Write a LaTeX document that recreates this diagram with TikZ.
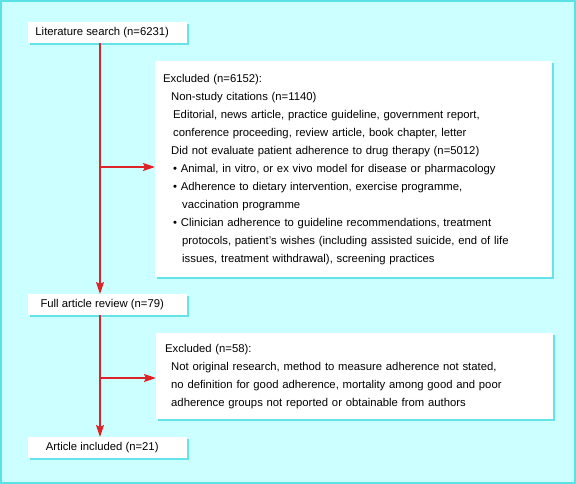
\documentclass[tikz,border=0pt]{standalone}
\usepackage{fontspec}
\setmainfont{Liberation Sans}
\usetikzlibrary{shadows,arrows.meta}
\definecolor{bgc}{RGB}{204,255,255}
\definecolor{framec}{RGB}{90,225,230}
\definecolor{shadowc}{RGB}{100,228,232}
\definecolor{linered}{RGB}{222,34,40}
\tikzset{
  box/.style={fill=white, draw=none, inner ysep=0pt,
    drop shadow={shadow xshift=2pt, shadow yshift=-2pt, fill=shadowc, opacity=1},
    font=\fontsize{11.3}{18}\selectfont},
  smallbox/.style={box, anchor=north west, minimum width=159pt, minimum height=21pt, inner xsep=0pt},
  bigbox/.style={box, anchor=north west, inner xsep=8pt, align=left},
  arr/.style={draw=linered, line width=1.5pt, -{Stealth[length=12pt,width=8pt,inset=2pt]}}
}
\begin{document}
\begin{tikzpicture}[x=1pt,y=-1pt]
\useasboundingbox (0,0) rectangle (576,484);
\fill[bgc] (0,0) rectangle (576,484);
\draw[framec, line width=1.5pt] (1,1) rectangle (575,483);

\node[smallbox] (lit) at (28,22) {Literature search (n=6231)\kern11pt};
\node[bigbox, minimum width=397pt, minimum height=216pt, text width=381pt] (ex1) at (155,61) {%
Excluded (n=6152):\\
\hspace*{8pt}Non-study citations (n=1140)\\
\hspace*{10pt}Editorial, news article, practice guideline, government report,\\
\hspace*{10pt}conference proceeding, review article, book chapter, letter\\
\hspace*{8pt}Did not evaluate patient adherence to drug therapy (n=5012)\\
\hspace*{10pt}\textbullet\ Animal, in vitro, or ex vivo model for disease or pharmacology\\
\hspace*{10pt}\textbullet\ Adherence to dietary intervention, exercise programme,\\
\hspace*{19pt}vaccination programme\\
\hspace*{10pt}\textbullet\ Clinician adherence to guideline recommendations, treatment\\
\hspace*{19pt}protocols, patient's wishes (including assisted suicide, end of life\\
\hspace*{19pt}issues, treatment withdrawal), screening practices};
\node[smallbox] (full) at (28,294) {Full article review (n=79)\kern11pt};
\node[bigbox, minimum width=396pt, minimum height=86pt, text width=379pt, inner xsep=9pt] (ex2) at (156,333) {%
Excluded (n=58):\\
\hspace*{6pt}Not original research, method to measure adherence not stated,\\
\hspace*{6pt}no definition for good adherence, mortality among good and poor\\
\hspace*{6pt}adherence groups not reported or obtainable from authors};
\node[smallbox] (incl) at (28,437) {Article included (n=21)\kern11pt};

\coordinate (c1) at (100,167);
\coordinate (c2) at (100,378);
\draw[arr] (lit.south -| c1) -- (full.north -| c1);
\draw[arr] (c1) -- (ex1.west |- c1);
\draw[arr] (full.south -| c2) -- (incl.north -| c2);
\draw[arr] (c2) -- (ex2.west |- c2);
\end{tikzpicture}
\end{document}
